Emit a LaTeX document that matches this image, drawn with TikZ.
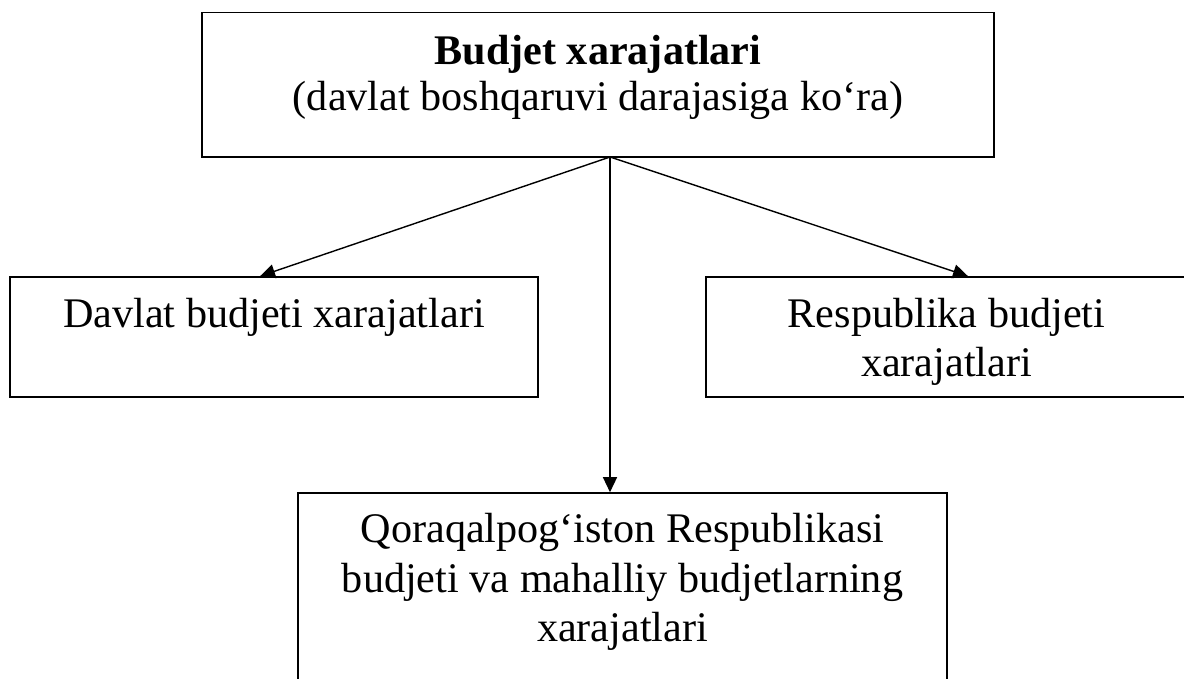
\documentclass[tikz,border=0pt]{standalone}
\usepackage{fontspec}
\setmainfont{Liberation Serif}
\usetikzlibrary{positioning,arrows.meta}
\tikzset{
  node-box/.style={draw=black,line width=0.9pt,inner sep=0pt,
    align=center,font=\fontsize{24}{28}\selectfont},
  arrow/.style={-{Triangle[length=3mm,width=2.8mm]},line width=0.8pt,draw=black},
}
\begin{document}
\begin{tikzpicture}
  \useasboundingbox (0,0) rectangle (23.68,-13.58);
  \node[node-box,minimum width=15.84cm,minimum height=2.886cm,
    font=\fontsize{24}{26.7}\selectfont]          (bx)   at (11.96,-1.697)
    {\textbf{Budjet xarajatlari}\\(davlat boshqaruvi darajasiga ko‘ra)\rule[-0.48cm]{0pt}{0pt}};
  \node[node-box,minimum width=10.56cm,minimum height=2.4cm]  (dav)  at (5.48,-6.74)
    {Davlat budjeti xarajatlari\\\mbox{}};
  \node[node-box,minimum width=9.62cm,minimum height=2.4cm]   (resp) at (18.93,-6.74)
    {\rule{0pt}{0.78cm}Respublika budjeti\\xarajatlari};
  \node[node-box,minimum width=12.98cm,minimum height=4.36cm] (qq)   at (12.45,-12.04)
    {Qoraqalpog‘iston Respublikasi\\budjeti va mahalliy budjetlarning\\xarajatlari\\\mbox{}};
  \coordinate (fork) at (12.2,-3.14);
  \draw[arrow] (fork) -- ([xshift=-2.8mm]dav.north);
  \draw[arrow] (fork) -- ([xshift=4.3mm]resp.north);
  \draw[arrow] (fork) -- (fork |- qq.north);
\end{tikzpicture}
\end{document}
